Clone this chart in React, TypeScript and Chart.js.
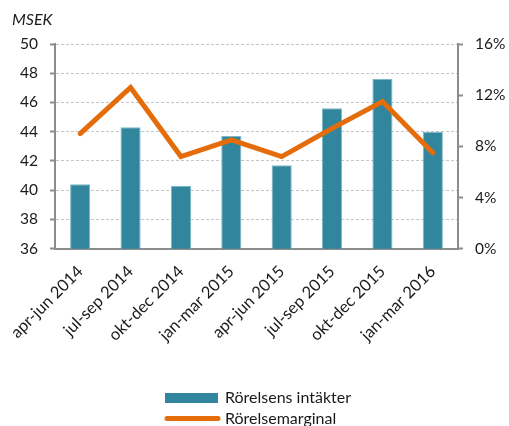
import { useEffect, useRef } from "react";
import { Chart, registerables } from "chart.js";

Chart.register(...registerables);

const categories = [
  "apr-jun 2014",
  "jul-sep 2014",
  "okt-dec 2014",
  "jan-mar 2015",
  "apr-jun 2015",
  "jul-sep 2015",
  "okt-dec 2015",
  "jan-mar 2016",
];
const revenue = [40.4, 44.3, 40.3, 43.7, 41.7, 45.6, 47.6, 44.0];
const margin = [9.0, 12.6, 7.2, 8.5, 7.2, 9.4, 11.5, 7.5];
const seriesLabels = ["Rörelsens intäkter", "Rörelsemarginal"];
const unitLabel = "MSEK";

const BAR_COLOR = "#31859C";
const LINE_COLOR = "#E46C0A";
const AXIS_COLOR = "#8C8C8C";
const GRID_COLOR = "#C6C6C6";
const TEXT_COLOR = "#1a1a1a";
const FONT = "Lato";

const extrasPlugin = {
  id: "extras",
  afterDraw(chart: any) {
    const ctx = chart.ctx as CanvasRenderingContext2D;
    ctx.save();
    // unit label
    ctx.fillStyle = TEXT_COLOR;
    ctx.font = `italic 16px ${FONT}`;
    ctx.textAlign = "left";
    ctx.textBaseline = "middle";
    ctx.fillText(unitLabel, 12, 20);

    // legend
    const ds = chart.data.datasets;
    ctx.font = `16px ${FONT}`;
    const textX = 225;
    // bar item
    ctx.fillStyle = ds[0].backgroundColor;
    ctx.fillRect(165, 393, 53, 10);
    ctx.fillStyle = TEXT_COLOR;
    ctx.fillText(ds[0].label, textX, 398);
    // line item
    ctx.strokeStyle = ds[1].borderColor;
    ctx.lineWidth = 5;
    ctx.lineCap = "round";
    ctx.beginPath();
    ctx.moveTo(167, 418.5);
    ctx.lineTo(218, 418.5);
    ctx.stroke();
    ctx.fillStyle = TEXT_COLOR;
    ctx.fillText(ds[1].label, textX, 418.5);
    ctx.restore();
  },
};

export default function App() {
  const ref = useRef<HTMLCanvasElement | null>(null);

  useEffect(() => {
    if (!ref.current) return;
    const chart = new Chart(ref.current, {
      type: "bar",
      data: {
        labels: categories,
        datasets: [
          {
            type: "bar",
            label: seriesLabels[0],
            data: revenue,
            backgroundColor: BAR_COLOR,
            borderColor: "#7DB8C8",
            borderWidth: { top: 1, left: 1, right: 1, bottom: 0 },
            categoryPercentage: 1,
            barPercentage: 0.4,
            yAxisID: "y",
            order: 1,
          },
          {
            type: "line",
            label: seriesLabels[1],
            data: margin,
            borderColor: LINE_COLOR,
            backgroundColor: LINE_COLOR,
            borderWidth: 5,
            pointRadius: 0,
            pointHoverRadius: 0,
            tension: 0,
            borderCapStyle: "round",
            yAxisID: "y1",
            order: 0,
          },
        ] as any,
      },
      options: {
        animation: false,
        responsive: true,
        maintainAspectRatio: false,
        layout: { padding: { top: 44, left: 0, right: 0, bottom: 0 } },
        plugins: {
          legend: { display: false },
          tooltip: { enabled: false },
          title: { display: false },
        },
        scales: {
          x: {
            grid: { drawOnChartArea: false, drawTicks: false },
            border: { display: true, color: AXIS_COLOR, width: 2 },
            ticks: {
              color: TEXT_COLOR,
              font: { family: FONT, size: 16.5 },
              minRotation: 45,
              maxRotation: 45,
              padding: 13,
              autoSkip: false,
            },
            afterFit: (s: any) => {
              s.height = 177.3;
              s.paddingLeft = 0;
              s.paddingRight = 0;
            },
          },
          y: {
            position: "left",
            min: 36,
            max: 50,
            ticks: {
              stepSize: 2,
              color: TEXT_COLOR,
              font: { family: FONT, size: 15.5 },
              padding: 12,
            },
            grid: {
              color: GRID_COLOR,
              lineWidth: 1,
              tickLength: 5,
              tickColor: AXIS_COLOR,
              tickWidth: 2,
              tickBorderDash: [],
            },
            border: { display: true, color: AXIS_COLOR, width: 2, dash: [3, 2] },
            afterFit: (s: any) => {
              s.width = 55;
            },
          },
          y1: {
            position: "right",
            min: 0,
            max: 16,
            ticks: {
              stepSize: 4,
              color: TEXT_COLOR,
              font: { family: FONT, size: 15.5 },
              padding: 12,
              callback: (v: any) => `${v}%`,
            },
            grid: {
              drawOnChartArea: false,
              tickLength: 5,
              tickColor: AXIS_COLOR,
              tickWidth: 2,
            },
            border: { display: true, color: AXIS_COLOR, width: 2 },
            afterFit: (s: any) => {
              s.width = 51;
            },
          },
        },
      } as any,
      plugins: [extrasPlugin],
    });
    return () => chart.destroy();
  }, []);

  return (
    <div
      style={{
        position: "fixed",
        left: 0,
        top: 0,
        width: 509,
        height: 426,
        background: "#fff",
      }}
    >
      <canvas ref={ref} />
    </div>
  );
}
